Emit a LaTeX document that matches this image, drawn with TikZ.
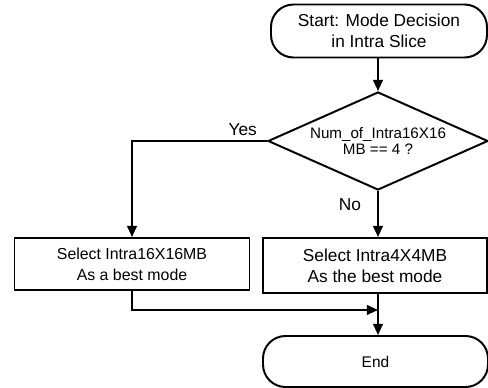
\documentclass[tikz,border=0pt]{standalone}
\usepackage{fontspec}
\setmainfont{Liberation Sans}
\usetikzlibrary{shapes.geometric,arrows.meta}

\tikzset{
  flow/.style={line width=1.4pt, -{Triangle[length=8pt,width=7pt]}},
  termbox/.style={draw, line width=1.4pt, rounded corners=16pt, inner sep=0pt, align=center,
    font=\fontsize{12.3}{15}\selectfont},
  procbox/.style={draw, line width=1.4pt, inner sep=0pt, align=center,
    font=\fontsize{12.3}{15}\selectfont},
  testbox/.style={draw, diamond, aspect=2.2, line width=1.4pt, inner sep=0pt, align=center,
    font=\fontsize{10.8}{12}\selectfont},
  lbl/.style={font=\fontsize{12.3}{15}\selectfont}
}

\begin{document}
\begin{tikzpicture}[x=0.025cm, y=-0.025cm]
  % Parameters
  \def\px{0.025cm} % one pixel of the reference
  \def\cx{378}     % x of the main column

  \useasboundingbox (0,0) rectangle (488,388);

  % Boxes
  \node[termbox, minimum width=216*\px, minimum height=53*\px] (start) at (379,31)
    {Start: Mode Decision\\in Intra Slice};
  \node[testbox, minimum width=220*\px, minimum height=98*\px] (test) at (\cx,141)
    {Num\_of\_Intra16X16\\MB == 4 ?};
  \node[procbox, minimum width=235*\px, minimum height=52*\px,
    font=\fontsize{11.3}{15}\selectfont] (sel16) at (132,264)
    {Select Intra16X16MB\\As a best mode};
  \node[procbox, minimum width=224*\px, minimum height=55*\px] (sel4) at (375,265.5)
    {Select Intra4X4MB\\As the best mode};
  \node[termbox, minimum width=225*\px, minimum height=51*\px,
    font=\fontsize{11}{13}\selectfont] (end) at (375.5,361.5)
    {End};
  \coordinate (join) at (\cx,310);

  % Connectors
  \draw[flow] (test.north |- start.south) -- (test.north);
  \draw[flow] (test.west) -| node[pos=0.09, above, lbl] (yes) {Yes} (sel16.north);
  \draw[flow] (test.south) -- node[pos=0.3, left, lbl, xshift=-8pt] (no) {No} (test.south |- sel4.north);
  \draw[flow] (sel16.south) |- (join);
  \draw[flow] (test.south |- sel4.south) -- (test.south |- end.north);
\end{tikzpicture}
\end{document}
